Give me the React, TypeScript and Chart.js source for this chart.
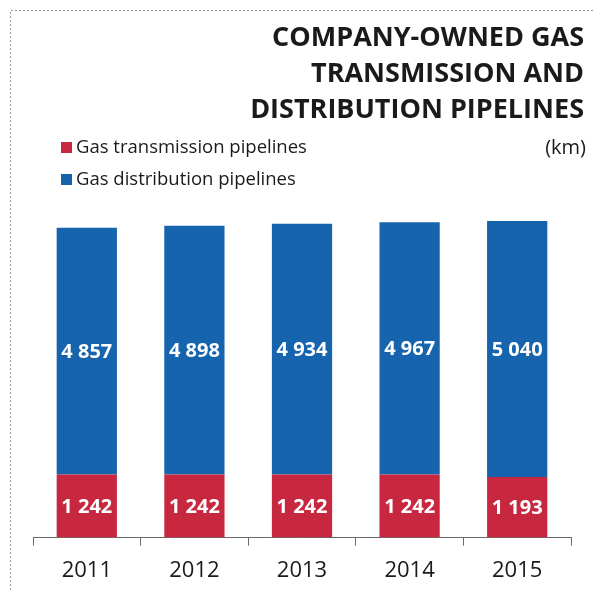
import React, { useEffect, useRef } from "react";
import { Chart, registerables } from "chart.js";

Chart.register(...registerables);

const years = ["2011", "2012", "2013", "2014", "2015"];
const transmission = [1242, 1242, 1242, 1242, 1193];
const distribution = [4857, 4898, 4934, 4967, 5040];
const titleLines = ["COMPANY-OWNED GAS", "TRANSMISSION AND", "DISTRIBUTION PIPELINES"];
const legendLabels = ["Gas transmission pipelines", "Gas distribution pipelines"];
const unitLabel = "(km)";

const RED = "#C8283F";
const BLUE = "#1663AE";
const FONT = "'Open Sans', sans-serif";

const fmt = (v: number) => String(v).replace(/\B(?=(\d{3})+(?!\d))/g, " ");

const decorPlugin = {
  id: "decor",
  beforeDraw(chart: any) {
    const ctx = chart.ctx;
    ctx.save();
    ctx.fillStyle = "#ffffff";
    ctx.fillRect(0, 0, chart.width, chart.height);
    ctx.strokeStyle = "#9a9a9a";
    ctx.lineWidth = 1;
    ctx.setLineDash([2, 2]);
    ctx.beginPath();
    ctx.moveTo(10.5, chart.height);
    ctx.lineTo(10.5, 10.5);
    ctx.lineTo(chart.width, 10.5);
    ctx.stroke();
    ctx.restore();
  },
  afterDraw(chart: any) {
    const ctx = chart.ctx;
    ctx.save();
    // title
    ctx.fillStyle = "#1a1a1a";
    ctx.font = `bold 27px ${FONT}`;
    ctx.textAlign = "right";
    ctx.textBaseline = "middle";
    titleLines.forEach((t, i) => ctx.fillText(t, 584, 38 + i * 36));
    // unit
    ctx.font = `20px ${FONT}`;
    ctx.fillText(unitLabel, 586, 148);
    // legend
    ctx.textAlign = "left";
    const colors = [RED, BLUE];
    legendLabels.forEach((l, i) => {
      const y = 148 + i * 32;
      ctx.fillStyle = colors[i];
      ctx.fillRect(61, y - 6, 11, 11);
      ctx.fillStyle = "#1a1a1a";
      ctx.font = `18.5px ${FONT}`;
      ctx.fillText(l, 76, y);
    });
    // data labels
    ctx.fillStyle = "#ffffff";
    ctx.font = `bold 20px ${FONT}`;
    ctx.textAlign = "center";
    chart.data.datasets.forEach((ds: any, di: number) => {
      const meta = chart.getDatasetMeta(di);
      meta.data.forEach((bar: any, i: number) => {
        const y = (bar.y + bar.base) / 2;
        ctx.fillText(fmt(ds.data[i]), bar.x, y + 1);
      });
    });
    ctx.restore();
  },
};

export default function App() {
  const ref = useRef<HTMLCanvasElement>(null);
  useEffect(() => {
    const chart = new Chart(ref.current!, {
      type: "bar",
      data: {
        labels: years,
        datasets: [
          { label: legendLabels[0], data: transmission, backgroundColor: RED, categoryPercentage: 1, barPercentage: 0.56 },
          { label: legendLabels[1], data: distribution, backgroundColor: BLUE, categoryPercentage: 1, barPercentage: 0.56 },
        ],
      },
      options: {
        animation: false,
        responsive: false,
        layout: { padding: { top: 182, left: 33, right: 23, bottom: -6 } },
        plugins: { legend: { display: false }, title: { display: false }, tooltip: { enabled: false } },
        scales: {
          x: {
            stacked: true,
            grid: { offset: true, drawOnChartArea: false, drawTicks: true, tickLength: 8, color: "#6a6a6a" },
            border: { display: true, color: "#6a6a6a" },
            ticks: { color: "#1a1a1a", font: { family: FONT, size: 22 }, padding: 12 },
          },
          y: { stacked: true, display: false, min: 0, max: 7000 },
        },
      } as any,
      plugins: [decorPlugin],
    });
    return () => chart.destroy();
  }, []);
  return (
    <div style={{ position: "fixed", left: 0, top: 0, width: 594, height: 590 }}>
      <canvas ref={ref} width={594} height={590} style={{ width: 594, height: 590 }} />
    </div>
  );
}
